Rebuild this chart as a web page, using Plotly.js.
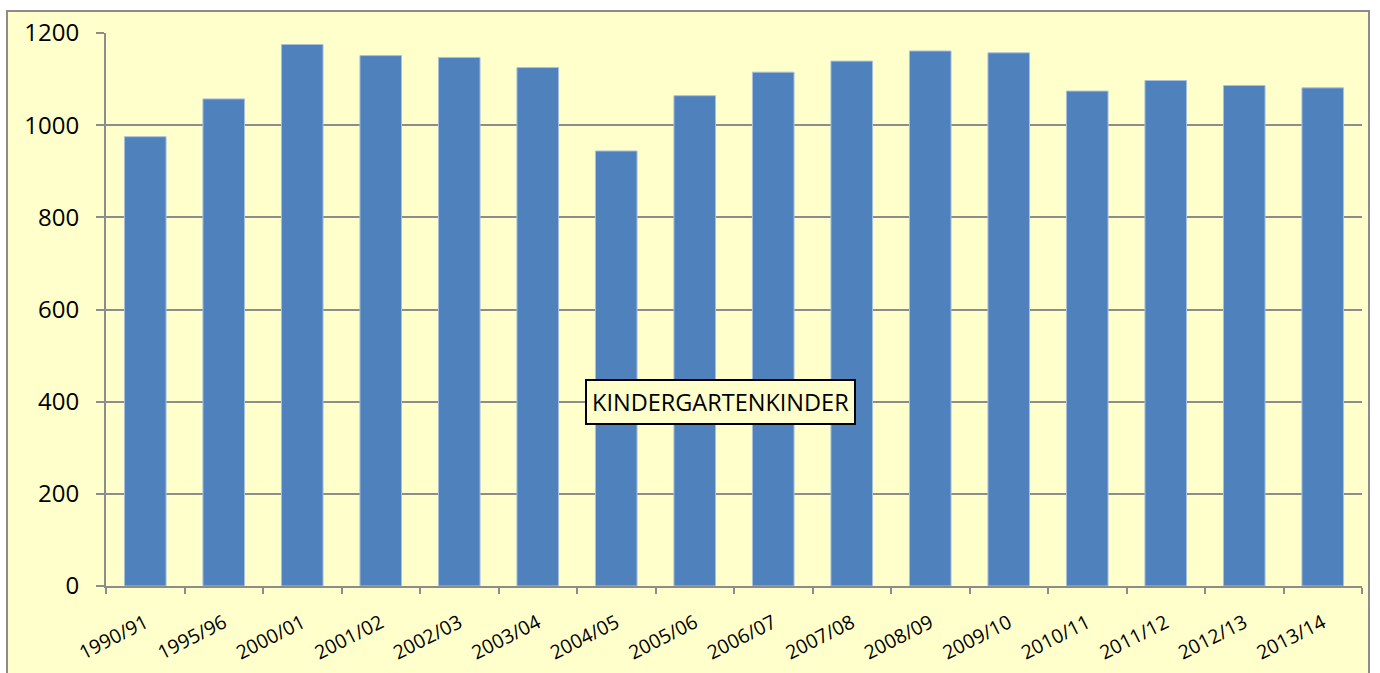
<!DOCTYPE html>
<html>
<head>
<meta charset="utf-8">
<script src="https://cdn.plot.ly/plotly-3.0.1.min.js"></script>
<style>
  html, body { margin: 0; padding: 0; background: #ffffff; overflow: hidden; }
  #frame { position: absolute; left: 6px; top: 10px; width: 1364px; height: 684px;
           box-sizing: border-box; border: 2px solid #8c8c8c; background: #FFFFCC; }
  #chart { width: 1360px; height: 680px; }
</style>
</head>
<body>
<div id="frame"><div id="chart"></div></div>
<script>
const categories = ["1990/91","1995/96","2000/01","2001/02","2002/03","2003/04","2004/05","2005/06",
                    "2006/07","2007/08","2008/09","2009/10","2010/11","2011/12","2012/13","2013/14"];
const kinder = [975, 1057, 1175, 1151, 1147, 1125, 944, 1064, 1115, 1139, 1161, 1157, 1074, 1097, 1086, 1081];
const yTicks = [0, 200, 400, 600, 800, 1000, 1200];
const seriesName = "KINDERGARTENKINDER";

const trace = {
  type: "bar",
  x: categories,
  y: kinder,
  name: seriesName,
  marker: { color: "#4F81BD", line: { color: "#a9c0de", width: 1 } },
  hoverinfo: "x+y"
};

const layout = {
  width: 1360, height: 680,
  margin: { l: 98, r: 6, t: 21, b: 106 },
  paper_bgcolor: "#FFFFCC",
  plot_bgcolor: "#FFFFCC",
  showlegend: false,
  bargap: 0.47,
  font: { family: "Open Sans, Lato, sans-serif", color: "#000000" },
  xaxis: {
    type: "category",
    tickangle: -27,
    tickfont: { size: 19.5, family: "Open Sans, sans-serif", color: "#000" },
    ticks: "outside",
    tickson: "boundaries",
    ticklen: 6,
    tickcolor: "#8c8c8c",
    tickwidth: 2,
    ticklabelstandoff: 16,
    showline: true,
    linecolor: "#8c8c8c",
    linewidth: 2,
    showgrid: false
  },
  yaxis: {
    range: [0, 1200],
    tickvals: yTicks,
    ticktext: yTicks.map(String),
    tickfont: { size: 24, family: "Open Sans, sans-serif", color: "#000" },
    ticks: "outside",
    ticklen: 8,
    tickcolor: "#8c8c8c",
    tickwidth: 2,
    ticklabelstandoff: 12,
    showline: true,
    linecolor: "#8c8c8c",
    linewidth: 2,
    showgrid: true,
    gridcolor: "#8c8c8c",
    gridwidth: 2,
    zeroline: false
  },
  annotations: [{
    xref: "paper", yref: "y",
    x: 0.489, y: 400,
    text: seriesName,
    showarrow: false,
    font: { size: 23.5, family: "Open Sans, sans-serif", color: "#000" },
    bgcolor: "#FFFFCC",
    bordercolor: "#000000",
    borderwidth: 2,
    borderpad: 5,
    xanchor: "center", yanchor: "middle"
  }]
};

Plotly.newPlot("chart", [trace], layout, { displayModeBar: false, staticPlot: true });
</script>
</body>
</html>
